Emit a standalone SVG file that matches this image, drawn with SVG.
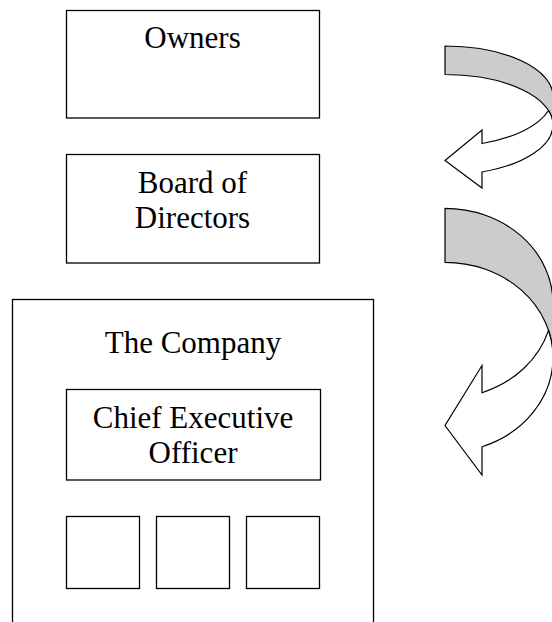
<svg xmlns="http://www.w3.org/2000/svg" width="552" height="622" viewBox="0 0 552 622">
  <style>
    .box { fill: #ffffff; stroke: #000000; stroke-width: 1.3; }
    .label { font-family: "Liberation Serif", "Times New Roman", serif; font-size: 31px; fill: #000000; text-anchor: middle; }
    .back { fill: #cccccc; stroke: #000000; stroke-width: 1.2; stroke-linejoin: round; }
    .front { fill: #ffffff; stroke: #000000; stroke-width: 1.2; stroke-linejoin: miter; }
  </style>
  <rect width="552" height="622" fill="#ffffff"/>

  <g id="owners">
    <rect class="box" x="66.5" y="10.5" width="253" height="107.5"/>
    <text class="label" x="192.5" y="48">Owners</text>
  </g>

  <g id="board">
    <rect class="box" x="66.5" y="154.5" width="253" height="108.5"/>
    <text class="label" x="192.5" y="193">Board of</text>
    <text class="label" x="192.5" y="228">Directors</text>
  </g>

  <g id="company">
    <rect class="box" x="12.5" y="299.5" width="361" height="340"/>
    <text class="label" x="193" y="353">The Company</text>
  </g>

  <g id="ceo">
    <rect class="box" x="66.5" y="389.5" width="254" height="90.5"/>
    <text class="label" x="193" y="428">Chief Executive</text>
    <text class="label" x="193" y="463">Officer</text>
  </g>

  <g id="unit-1">
    <rect class="box" x="66.5" y="516.5" width="73" height="72"/>
  </g>
  <g id="unit-2">
    <rect class="box" x="156.5" y="516.5" width="73" height="72"/>
  </g>
  <g id="unit-3">
    <rect class="box" x="246.5" y="516.5" width="73" height="72"/>
  </g>

  <!-- curved arrows: shaded back band, then white front band with head -->
  <g id="connectors">
    <g id="owners-to-board">
      <path class="back" d="M 445,46 A 108 50.27 0 0 1 553,96.27 L 553,124.77 A 108 50.27 0 0 0 445,74.5 Z"/>
      <path class="front" d="M 482,143.5 L 482,130 L 445,160.5 L 482,188 L 482,172 A 108 50.27 0 0 0 553,124.77 A 108 50.27 0 0 0 548.57,110.52 A 108 50.27 0 0 1 482,143.5 Z"/>
    </g>
    <g id="board-to-company">
      <path class="back" d="M 445,208.3 A 108 95.08 0 0 1 553,303.38 L 553,357.38 A 108 95.08 0 0 0 445,262.3 Z"/>
      <path class="front" d="M 482,392.7 L 482,365.5 L 445,425.5 L 482,475 L 482,446.7 A 108 95.08 0 0 0 553,357.38 A 108 95.08 0 0 0 548.55,330.38 A 108 95.08 0 0 1 482,392.7 Z"/>
    </g>
  </g>
</svg>
